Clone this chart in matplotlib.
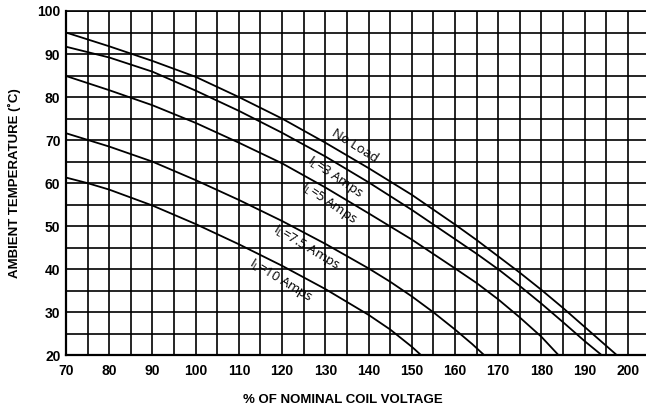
import matplotlib
matplotlib.use("Agg")
import matplotlib.pyplot as plt
import numpy as np

# ---- data ----
x_ticks = [70, 80, 90, 100, 110, 120, 130, 140, 150, 160, 170, 180, 190, 200]
y_ticks = [20, 30, 40, 50, 60, 70, 80, 90, 100]

v_noload = [70, 80, 90, 100, 110, 120, 130, 140, 150, 160, 165, 170, 175, 180, 185, 190, 195, 197.5]
t_noload = [95, 91.8, 88.4, 84.7, 80, 75, 69.4, 63.5, 57.3, 50.4, 46.8, 43.0, 39.2, 35.2, 31.0, 26.6, 22.2, 20]

v_3a = [70, 80, 90, 100, 110, 120, 130, 140, 150, 160, 165, 170, 175, 180, 185, 190, 194]
t_3a = [91.7, 89.2, 85.9, 81.5, 76.8, 71.7, 66.2, 60.2, 53.8, 47.0, 43.6, 40.0, 36.1, 32.0, 27.7, 23.3, 20]

v_5a = [70, 80, 90, 100, 110, 120, 130, 140, 150, 160, 165, 170, 175, 180, 184]
t_5a = [84.9, 81.6, 78.1, 74, 69.4, 64.6, 59, 53, 46.9, 40.2, 36.8, 33, 28.8, 24.3, 20]

v_75a = [70, 80, 90, 100, 110, 120, 130, 140, 145, 150, 155, 160, 164, 166.8]
t_75a = [71.6, 68.5, 65, 60.7, 56.1, 51.2, 45.9, 40.2, 37.1, 33.7, 30.0, 26.0, 22.6, 20]

v_10a = [70, 75, 80, 90, 100, 110, 120, 130, 140, 145, 150, 152.2]
t_10a = [61.3, 60, 58.5, 54.8, 50.5, 45.8, 40.8, 35.4, 29.4, 26.0, 22.0, 20]

curve_labels = ["No Load", "I$_L$=3 Amps", "I$_L$=5 Amps", "I$_L$=7.5 Amps", "I$_L$=10 Amps"]
label_x = [136.9, 132.2, 130.9, 125.6, 119.7]
label_y = [68.6, 61.3, 55.3, 45.0, 37.4]
label_rot = [-32, -34, -34, -31, -31]

plt.rcParams['mathtext.default'] = 'regular'

fig = plt.figure(figsize=(6.46, 4.12), dpi=100)
ax = fig.add_axes([66/646, 1 - 355.3/412, 1 - 66/646, (355.3 - 11)/412])

ax.set_xlim(70, 204.2)
ax.set_ylim(20, 100)

# grid every 5 units
for gx in np.arange(75, 205, 5):
    ax.axvline(gx, color='black', lw=1.2, zorder=1)
for gy in np.arange(25, 101, 5):
    ax.axhline(gy, color='black', lw=1.2, zorder=1)

for v, t in [(v_noload, t_noload), (v_3a, t_3a), (v_5a, t_5a), (v_75a, t_75a), (v_10a, t_10a)]:
    ax.plot(v, t, color='black', lw=1.3, zorder=2, solid_joinstyle='round')

for s, lx, ly, r in zip(curve_labels, label_x, label_y, label_rot):
    ax.text(lx, ly, s, rotation=r, ha='center', va='center', fontsize=9.5,
            family='Open Sans', color='black', zorder=3, rotation_mode='anchor')

ax.set_xticks(x_ticks)
ax.set_yticks(y_ticks)
ax.set_xticklabels([str(t) for t in x_ticks], fontweight='bold', family='Liberation Sans', fontsize=10)
ax.set_yticklabels([str(t) for t in y_ticks], fontweight='bold', family='Liberation Sans', fontsize=10)
ax.tick_params(axis='both', length=0, pad=4)
ax.tick_params(axis='x', pad=6)

for side in ['left', 'bottom']:
    ax.spines[side].set_linewidth(1.6)
ax.spines['right'].set_visible(False)
ax.spines['top'].set_linewidth(1.2)

fig.text(342.5/646, 1 - 400/412, "% OF NOMINAL COIL VOLTAGE", ha='center', va='center',
         fontweight='bold', family='Liberation Sans', fontsize=9.5)
fig.text(14/646, 1 - 183/412, "AMBIENT TEMPERATURE (˚C)", ha='center', va='center',
         rotation=90, fontweight='bold', family='Liberation Sans', fontsize=9.5)

fig.savefig("out.png", dpi=100)
